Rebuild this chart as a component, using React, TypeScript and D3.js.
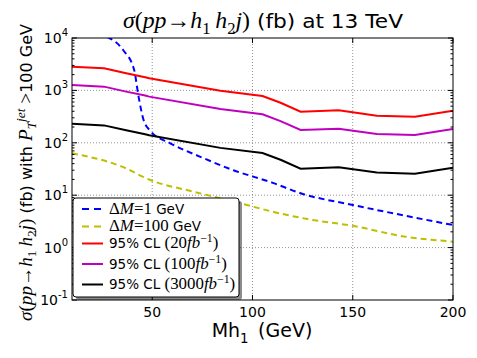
import React, { useEffect, useRef } from 'react';
import * as d3 from 'd3';

// 95% CL exclusion curves, all three share the same mass points (GeV)
const clMass = [10, 26, 37, 46.5, 48.5, 84, 105, 114, 124, 143, 162, 181, 200];
const cl20fb = [2830, 2640, 2120, 1780, 1700, 986, 782, 582, 393, 417, 329, 315, 410];
const cl100fb = [1265, 1180, 948, 796, 760, 441, 350, 260, 176, 186, 147, 141, 183];
const cl3000fb = [231, 215, 173, 145, 139, 80, 64, 47.5, 32, 34, 27, 25.7, 33.5];

// signal cross sections (fb)
const dm1Mass = [27.5, 35.5, 41, 43.2, 45.7, 49, 59, 74, 90.5, 110.5, 124, 150, 177, 200];
const dm1Xsec = [10500, 5900, 2450, 760, 272, 170, 98, 54, 30, 17, 10.9, 6.5, 4.0, 2.7];
const dm100Mass = [10, 35, 49, 70.5, 79, 94, 110.5, 127.5, 150, 177, 200];
const dm100Xsec = [63, 35, 19.5, 11.7, 9.7, 7.0, 4.8, 3.5, 2.6, 1.6, 1.3];

const xTickValues = [50, 100, 150, 200];
const yTickValues = [1e-1, 1e0, 1e1, 1e2, 1e3, 1e4];
const yTickExponents = ['-1', '0', '1', '2', '3', '4'];

const SANS = 'DejaVu Sans, sans-serif';
const MATH = 'Liberation Serif, DejaVu Serif, serif';

type Run = { t: string; f?: 'sans' | 'rm' | 'it'; pos?: 'sub' | 'sup' };

// poor man's mathtext: a list of runs written as tspans
function addRuns(text: any, runs: Run[], size: number, mathScale = 1.15) {
  let cur = 0;
  runs.forEach(r => {
    const target = r.pos === 'sub' ? size * 0.3 : r.pos === 'sup' ? -size * 0.42 : 0;
    const isSans = r.f === 'sans' || !r.f;
    const sz = isSans ? size : size * mathScale;
    text.append('tspan')
      .attr('dy', target - cur)
      .attr('font-family', isSans ? SANS : MATH)
      .attr('font-style', r.f === 'it' ? 'italic' : 'normal')
      .attr('font-size', r.pos ? sz * 0.7 : sz)
      .text(r.t);
    cur = target;
  });
}

const sigmaRuns: Run[] = [
  { t: 'σ', f: 'it' }, { t: '(', f: 'rm' }, { t: 'pp', f: 'it' }, { t: '→', f: 'rm' },
  { t: 'h', f: 'it' }, { t: '1', f: 'rm', pos: 'sub' }, { t: '\u2009h', f: 'it' },
  { t: '2', f: 'rm', pos: 'sub' }, { t: 'j', f: 'it' }, { t: ')', f: 'rm' },
];

const App = () => {
  const svgRef = useRef<SVGSVGElement>(null);

  useEffect(() => {
    const width = 477;
    const height = 358;
    const left = 72, right = 453, top = 38, bottom = 300;

    const svg = d3.select(svgRef.current)
      .attr('width', width)
      .attr('height', height);
    svg.selectAll('*').remove();

    const x = d3.scaleLinear().domain([10, 200]).range([left, right]);
    const y = d3.scaleLog().domain([0.1, 1e4]).range([bottom, top]);

    svg.append('rect').attr('width', width).attr('height', height).attr('fill', '#fff');

    svg.append('clipPath').attr('id', 'plot-clip')
      .append('rect')
      .attr('x', left).attr('y', top)
      .attr('width', right - left).attr('height', bottom - top);

    // dotted grid at major ticks
    const grid = svg.append('g');
    xTickValues.filter(v => v < 200).forEach(v => {
      grid.append('line')
        .attr('x1', x(v)).attr('x2', x(v)).attr('y1', top).attr('y2', bottom)
        .attr('stroke', '#777').attr('stroke-width', 0.8).attr('stroke-dasharray', '1,2');
    });
    yTickValues.slice(1, -1).forEach(v => {
      grid.append('line')
        .attr('x1', left).attr('x2', right).attr('y1', y(v)).attr('y2', y(v))
        .attr('stroke', '#777').attr('stroke-width', 0.8).attr('stroke-dasharray', '1,2');
    });

    // curves
    const plot = svg.append('g').attr('clip-path', 'url(#plot-clip)');
    const line = d3.line<[number, number]>().x(d => x(d[0])).y(d => y(d[1]));
    const smooth = d3.line<[number, number]>().x(d => x(d[0])).y(d => y(d[1])).curve(d3.curveMonotoneX);

    const series = [
      { xs: dm1Mass, ys: dm1Xsec, color: '#0000ff', dash: '6,4', gen: smooth },
      { xs: dm100Mass, ys: dm100Xsec, color: '#bfbf00', dash: '6,4', gen: smooth },
      { xs: clMass, ys: cl20fb, color: '#ff0000', dash: null, gen: line },
      { xs: clMass, ys: cl100fb, color: '#bf00bf', dash: null, gen: line },
      { xs: clMass, ys: cl3000fb, color: '#000000', dash: null, gen: line },
    ];

    series.forEach(s => {
      plot.append('path')
        .attr('d', s.gen(s.xs.map((m, i) => [m, s.ys[i]] as [number, number])))
        .attr('fill', 'none')
        .attr('stroke', s.color)
        .attr('stroke-width', 2)
        .attr('stroke-dasharray', s.dash);
    });

    // ticks (inside, on all four sides)
    const ticks = svg.append('g').attr('stroke', '#000').attr('stroke-width', 1);
    xTickValues.forEach(v => {
      ticks.append('line').attr('x1', x(v)).attr('x2', x(v)).attr('y1', bottom).attr('y2', bottom - 5);
      ticks.append('line').attr('x1', x(v)).attr('x2', x(v)).attr('y1', top).attr('y2', top + 5);
    });
    yTickValues.forEach(v => {
      ticks.append('line').attr('x1', left).attr('x2', left + 5).attr('y1', y(v)).attr('y2', y(v));
      ticks.append('line').attr('x1', right).attr('x2', right - 5).attr('y1', y(v)).attr('y2', y(v));
    });
    yTickValues.slice(0, -1).forEach(v => {
      d3.range(2, 10).forEach(k => {
        const yy = y(v * k);
        ticks.append('line').attr('x1', left).attr('x2', left + 2.5).attr('y1', yy).attr('y2', yy);
        ticks.append('line').attr('x1', right).attr('x2', right - 2.5).attr('y1', yy).attr('y2', yy);
      });
    });

    // frame
    svg.append('rect')
      .attr('x', left).attr('y', top)
      .attr('width', right - left).attr('height', bottom - top)
      .attr('fill', 'none').attr('stroke', '#000').attr('stroke-width', 1);

    // tick labels
    xTickValues.forEach(v => {
      svg.append('text')
        .attr('x', x(v)).attr('y', bottom + 17)
        .attr('text-anchor', 'middle')
        .attr('font-family', SANS).attr('font-size', 14)
        .text(v);
    });
    yTickValues.forEach((v, i) => {
      const t = svg.append('text')
        .attr('x', 68).attr('y', y(v) + 5)
        .attr('text-anchor', 'end')
        .attr('font-family', SANS).attr('font-size', 14);
      t.append('tspan').text('10');
      t.append('tspan').attr('dy', -7).attr('font-size', 10).text(yTickExponents[i]);
    });

    // title: math part and plain part, each fitted to its width in the reference
    const titleMath = svg.append('text')
      .attr('x', 123).attr('y', 28)
      .attr('textLength', 127).attr('lengthAdjust', 'spacingAndGlyphs');
    addRuns(titleMath, sigmaRuns, 20, 1.2);
    svg.append('text')
      .attr('x', 257).attr('y', 28)
      .attr('font-family', SANS).attr('font-size', 20)
      .attr('textLength', 146).attr('lengthAdjust', 'spacingAndGlyphs')
      .text('(fb) at 13 TeV');

    // y label
    const ylab = svg.append('text')
      .attr('transform', 'translate(31.5,172.5) rotate(-90)')
      .attr('text-anchor', 'middle');
    addRuns(ylab, [
      ...sigmaRuns,
      { t: ' (fb) with ', f: 'sans' },
      { t: 'P', f: 'it' }, { t: 'T', f: 'it', pos: 'sub' }, { t: 'jet', f: 'it', pos: 'sup' },
      { t: ' >', f: 'rm' }, { t: '100 GeV', f: 'sans' },
    ], 16, 1.2);

    // x label
    const xlab = svg.append('text')
      .attr('x', 262).attr('y', 337)
      .attr('text-anchor', 'middle');
    addRuns(xlab, [
      { t: 'Mh', f: 'sans' }, { t: '1', f: 'sans', pos: 'sub' }, { t: '\u2002(GeV)', f: 'sans' },
    ], 19);

    // legend with shadow
    const lg = svg.append('g');
    lg.append('rect')
      .attr('x', 76).attr('y', 201).attr('width', 166).attr('height', 99)
      .attr('rx', 3).attr('fill', '#000').attr('opacity', 0.45);
    lg.append('rect')
      .attr('x', 73).attr('y', 198).attr('width', 166).attr('height', 99)
      .attr('rx', 3).attr('fill', '#fff').attr('stroke', '#000').attr('stroke-width', 1);

    const legendItems: { color: string; dash: string | null; row: number; runs: Run[] }[] = [
      { color: '#0000ff', dash: '7,5', row: 209, runs: [
        { t: 'Δ', f: 'rm' }, { t: 'M', f: 'it' }, { t: '=1', f: 'rm' }, { t: ' GeV', f: 'sans' }] },
      { color: '#bfbf00', dash: '7,5', row: 226.5, runs: [
        { t: 'Δ', f: 'rm' }, { t: 'M', f: 'it' }, { t: '=100', f: 'rm' }, { t: ' GeV', f: 'sans' }] },
      { color: '#ff0000', dash: null, row: 243.5, runs: [
        { t: '95% CL ', f: 'sans' }, { t: '(20', f: 'rm' }, { t: 'fb', f: 'it' },
        { t: '−1', f: 'rm', pos: 'sup' }, { t: ')', f: 'rm' }] },
      { color: '#bf00bf', dash: null, row: 264, runs: [
        { t: '95% CL ', f: 'sans' }, { t: '(100', f: 'rm' }, { t: 'fb', f: 'it' },
        { t: '−1', f: 'rm', pos: 'sup' }, { t: ')', f: 'rm' }] },
      { color: '#000000', dash: null, row: 284.5, runs: [
        { t: '95% CL ', f: 'sans' }, { t: '(3000', f: 'rm' }, { t: 'fb', f: 'it' },
        { t: '−1', f: 'rm', pos: 'sup' }, { t: ')', f: 'rm' }] },
    ];

    legendItems.forEach(item => {
      lg.append('line')
        .attr('x1', 82).attr('x2', 103).attr('y1', item.row).attr('y2', item.row)
        .attr('stroke', item.color).attr('stroke-width', 2)
        .attr('stroke-dasharray', item.dash);
      const t = lg.append('text')
        .attr('x', 109).attr('y', item.row + 4.5);
      addRuns(t, item.runs, 13.5, 1.25);
    });
  }, []);

  return (
    <svg ref={svgRef} style={{ position: 'absolute', left: 0, top: 0 }}></svg>
  );
};

export default App;
